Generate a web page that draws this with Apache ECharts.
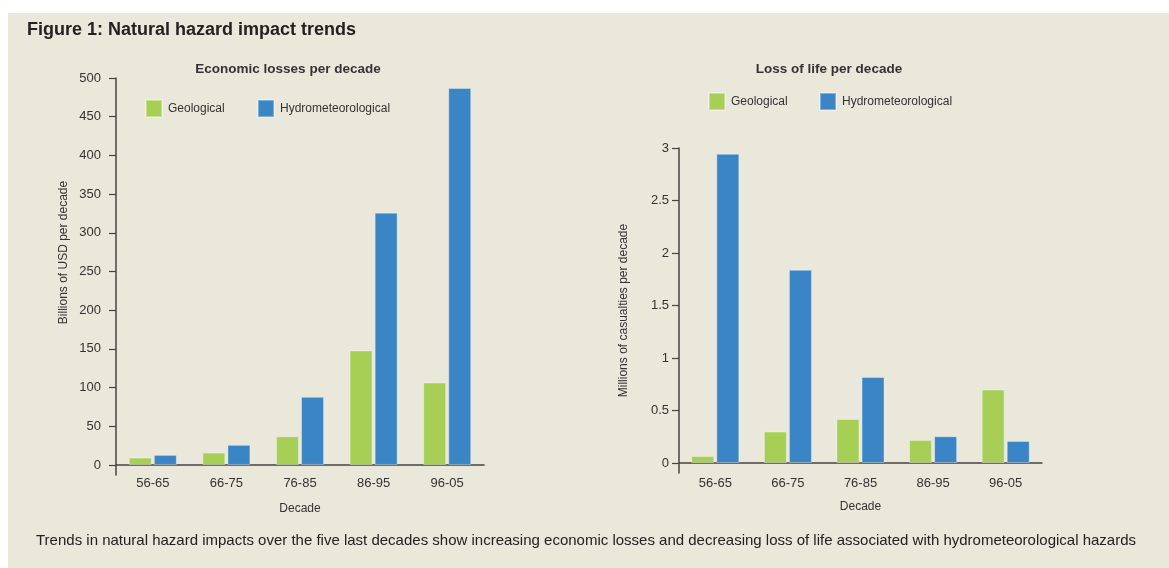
<!DOCTYPE html>
<html>
<head>
<meta charset="utf-8">
<script src="https://cdn.jsdelivr.net/npm/echarts@6/dist/echarts.min.js"></script>
<style>
  html, body { margin: 0; padding: 0; background: #ffffff; }
  #panel { position: absolute; left: 8px; top: 13px; width: 1161px; height: 555px; background: #EAE7DB; }
  #chart { position: absolute; left: 0; top: 0; width: 1169px; height: 568px; }
</style>
</head>
<body>
<div id="panel"></div>
<div id="chart"></div>
<script>
const categories = ['56-65', '66-75', '76-85', '86-95', '96-05'];
const seriesNames = ['Geological', 'Hydrometeorological'];

const econGeological = [9.5, 16, 37, 148, 106.5];
const econHydro = [13, 26, 88, 326, 487];
const lifeGeological = [0.067, 0.30, 0.42, 0.22, 0.70];
const lifeHydro = [2.945, 1.84, 0.82, 0.255, 0.21];

const econTicks = [0, 50, 100, 150, 200, 250, 300, 350, 400, 450, 500];
const lifeTicks = [0, 0.5, 1, 1.5, 2, 2.5, 3];

const GREEN = '#A8CF55';
const BLUE = '#3A85C6';
const TEXT = '#333333';
const AXIS = '#444444';
const FONT = "'Liberation Sans', Arial, sans-serif";

const chart = echarts.init(document.getElementById('chart'), null, { renderer: 'canvas' });

function yAxisDef(gridIndex, min, max, ticks, name, gap, pad, margin) {
  return {
    type: 'value', gridIndex: gridIndex, min: min, max: max,
    name: name, nameLocation: 'middle', nameGap: gap, nameRotate: 90,
    nameTextStyle: { color: TEXT, fontSize: 12, fontFamily: FONT, padding: pad },
    splitLine: { show: false },
    axisLine: { show: true, lineStyle: { color: AXIS, width: 1.5 } },
    axisTick: { show: true, inside: false, length: 7, customValues: ticks, lineStyle: { color: AXIS, width: 1.2 } },
    axisLabel: { customValues: ticks, color: TEXT, fontSize: 13, fontFamily: FONT, margin: margin }
  };
}

function xAxisDef(gridIndex, margin, nameGap) {
  return {
    type: 'category', gridIndex: gridIndex, data: categories,
    name: 'Decade', nameLocation: 'middle', nameGap: nameGap,
    nameTextStyle: { color: TEXT, fontSize: 12, fontFamily: FONT },
    axisLine: { show: true, onZero: true, lineStyle: { color: AXIS, width: 1.5 } },
    axisTick: { show: false },
    axisLabel: { color: TEXT, fontSize: 13, fontFamily: FONT, margin: margin }
  };
}

function legendDef(name, left, top) {
  return {
    data: [name], left: left, top: top, itemWidth: 16, itemHeight: 17, itemGap: 0,
    icon: 'rect', padding: 0,
    textStyle: { color: TEXT, fontSize: 12, fontFamily: FONT, padding: [0, 0, 0, 1] }
  };
}

function barSeries(name, color, data, xi, yi) {
  return {
    type: 'bar', name: name, xAxisIndex: xi, yAxisIndex: yi, data: data,
    barWidth: 23, barGap: '9%',
    itemStyle: { color: color, borderColor: 'rgba(255,255,255,0.35)', borderWidth: 1 }
  };
}

chart.setOption({
  backgroundColor: 'transparent',
  animation: false,
  title: [
    { text: 'Figure 1: Natural hazard impact trends', left: 27, top: 21, padding: 0,
      textStyle: { color: '#222', fontSize: 18, fontWeight: 'bold', fontFamily: FONT } },
    { text: 'Economic losses per decade', left: 288, top: 62, textAlign: 'center', padding: 0,
      textStyle: { color: TEXT, fontSize: 13.5, fontWeight: 'bold', fontFamily: FONT } },
    { text: 'Loss of life per decade', left: 829, top: 62, textAlign: 'center', padding: 0,
      textStyle: { color: TEXT, fontSize: 13.5, fontWeight: 'bold', fontFamily: FONT } },
    { text: 'Trends in natural hazard impacts over the five last decades show increasing economic losses and decreasing loss of life associated with hydrometeorological hazards',
      left: 36, top: 533, padding: 0,
      textStyle: { color: '#222', fontSize: 15, fontWeight: 'normal', fontFamily: FONT } }
  ],
  legend: [
    legendDef(seriesNames[0], 145, 99),
    legendDef(seriesNames[1], 257, 99),
    legendDef(seriesNames[0], 708, 92),
    legendDef(seriesNames[1], 819, 92)
  ],
  grid: [
    { left: 116, right: 685, top: 78, bottom: 93 },
    { left: 679, right: 127, top: 148, bottom: 95 }
  ],
  xAxis: [xAxisDef(0, 2, 28), xAxisDef(1, 4, 28)],
  yAxis: [
    yAxisDef(0, -13, 500, econTicks, 'Billions of USD per decade', 46, [0, 0, 0, 48], 15),
    yAxisDef(1, -0.095, 3, lifeTicks, 'Millions of casualties per decade', 49, 0, 10)
  ],
  series: [
    barSeries(seriesNames[0], GREEN, econGeological, 0, 0),
    barSeries(seriesNames[1], BLUE, econHydro, 0, 0),
    barSeries(seriesNames[0], GREEN, lifeGeological, 1, 1),
    barSeries(seriesNames[1], BLUE, lifeHydro, 1, 1)
  ]
});
</script>
</body>
</html>
